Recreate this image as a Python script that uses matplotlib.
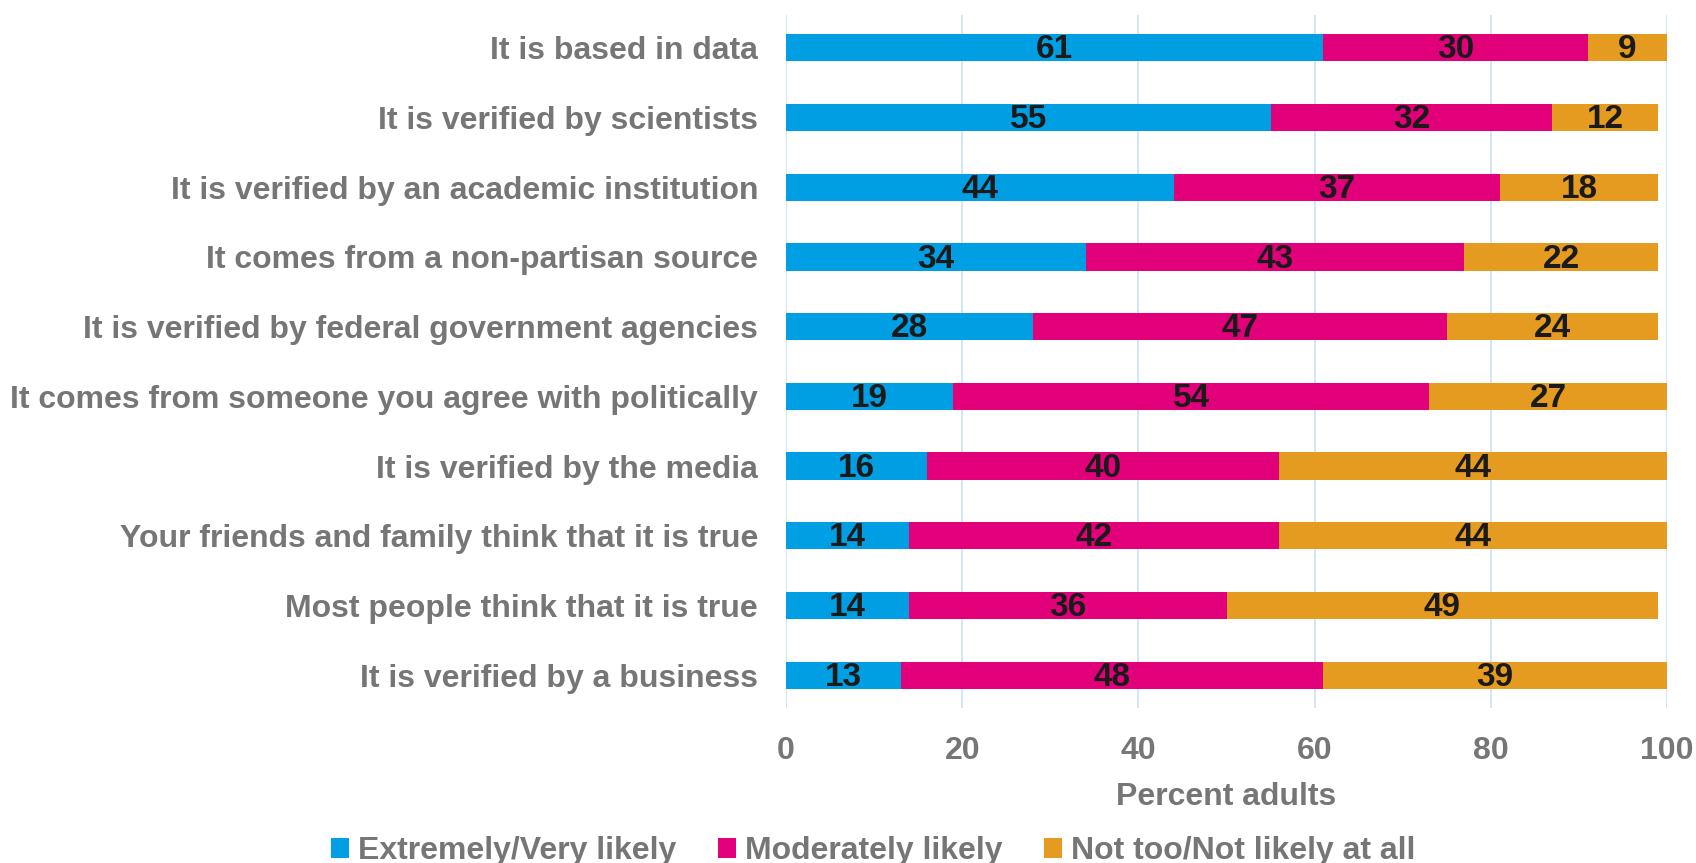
import numpy as np
import matplotlib.pyplot as plt

categories = ['It is based in data',
              'It is verified by scientists',
              'It is verified by an academic institution',
              'It comes from a non-partisan source',
              'It is verified by federal government agencies',
              'It comes from someone you agree with politically',
              'It is verified by the media',
              'Your friends and family think that it is true',
              'Most people think that it is true',
              'It is verified by a business']
very_likely = [61, 55, 44, 34, 28, 19, 16, 14, 14, 13]
moderately = [30, 32, 37, 43, 47, 54, 40, 42, 36, 48]
not_likely = [9, 12, 18, 22, 24, 27, 44, 44, 49, 39]
series_names = ['Extremely/Very likely', 'Moderately likely', 'Not too/Not likely at all']
colors = ['#009fe3', '#e2007a', '#e59b20']

plt.rcParams['font.family'] = ['Liberation Sans', 'DejaVu Sans']
plt.rcParams['font.weight'] = 'bold'
gray = '#767676'
fs = 23

fig = plt.figure(figsize=(16.96, 8.63), dpi=100)
ax = fig.add_axes([786/1696, 1-708/863, (1667-786)/1696, (708-15)/863])

y = np.arange(len(categories))
left = np.zeros(len(categories))
for vals, name, c in zip([very_likely, moderately, not_likely], series_names, colors):
    vals = np.array(vals)
    ax.barh(y, vals, left=left, height=0.39, color=c, label=name, zorder=3)
    for yi, l, v in zip(y, left, vals):
        ax.text(l + v/2, yi + 0.03, str(v), ha='center', va='center',
                fontsize=24, fontweight='bold', color='#1a1a1a', zorder=4)
    left += vals

ax.set_xlim(0, 100)
ax.set_ylim(9.47, -0.47)
ax.set_yticks(y)
ax.set_yticklabels(categories, fontsize=fs, color=gray)
ax.set_xticks([0, 20, 40, 60, 80, 100])
ax.tick_params(axis='x', labelsize=fs, labelcolor=gray, length=0, pad=20)
ax.tick_params(axis='y', length=0, pad=20)
ax.grid(axis='x', color='#cde5f7', linewidth=1.3, zorder=0)
for s in ax.spines.values():
    s.set_visible(False)
ax.set_xlabel('Percent adults', fontsize=fs, fontweight='bold', color=gray, labelpad=12)

fig.legend(loc='lower center', bbox_to_anchor=(0.515, -0.037), ncol=3, frameon=False,
           fontsize=fs, labelcolor=gray, handlelength=0.55, handleheight=0.55,
           handletextpad=0.3, columnspacing=1.3)

fig.savefig('out.png', dpi=100)
